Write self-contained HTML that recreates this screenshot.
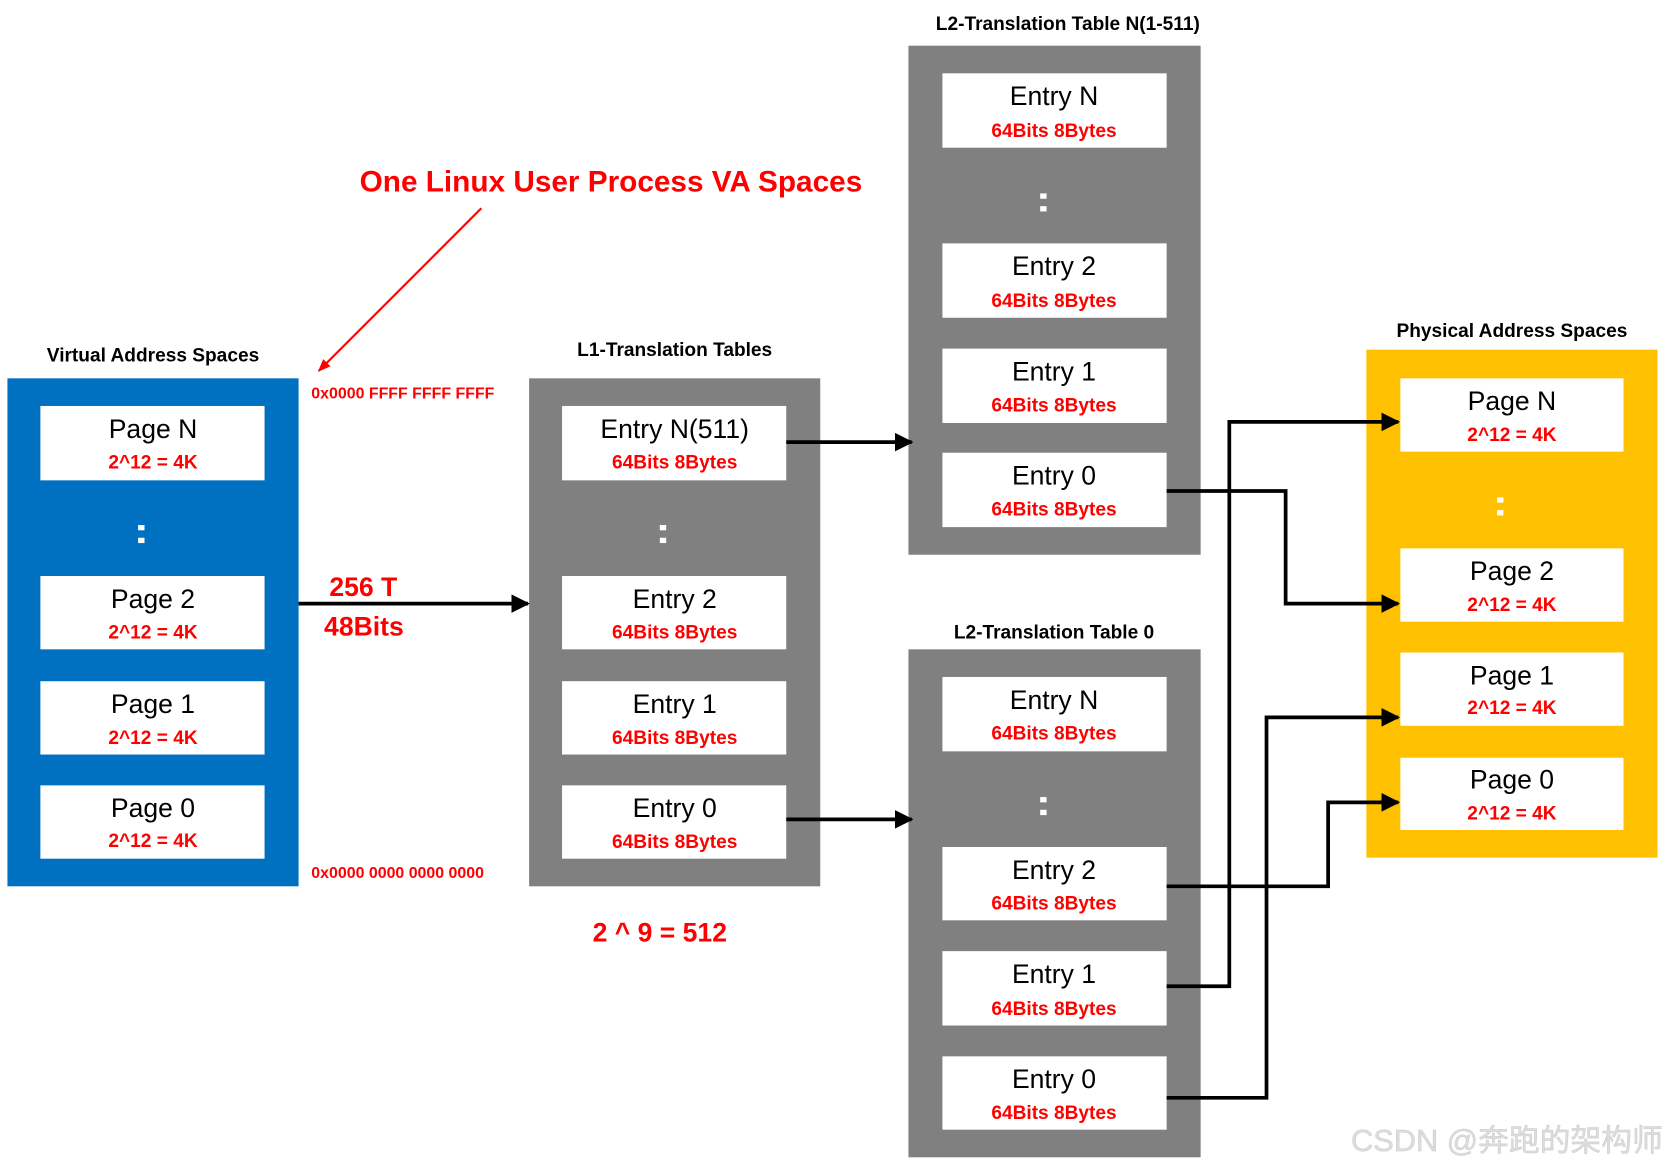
<!DOCTYPE html>
<html><head><meta charset="utf-8"><style>
html,body{margin:0;padding:0;background:#fff;}
svg{display:block;}
text{font-family:"Liberation Sans","Noto Sans CJK SC",sans-serif;}
</style></head><body>
<svg width="1666" height="1169" viewBox="0 0 1568 1100" preserveAspectRatio="none" xmlns="http://www.w3.org/2000/svg">
<defs>
<marker id="a" viewBox="0 0 10 10" refX="9" refY="5" markerWidth="5" markerHeight="5" orient="auto" markerUnits="strokeWidth"><path d="M0,0 L10,5 L0,10 z" fill="#000"/></marker>
<marker id="r" viewBox="0 0 10 10" refX="9" refY="5" markerWidth="6" markerHeight="6" orient="auto" markerUnits="strokeWidth"><path d="M0,1 L10,5 L0,9 z" fill="#f00"/></marker>
</defs>
<rect x="7" y="356" width="274" height="478" fill="#0070C0"/>
<rect x="498" y="356" width="274" height="478" fill="#808080"/>
<rect x="855" y="43" width="275" height="479" fill="#808080"/>
<rect x="855" y="611" width="275" height="478" fill="#808080"/>
<rect x="1286" y="329" width="274" height="478" fill="#FFC000"/>
<g font-weight="bold" font-size="18" text-anchor="middle" fill="#000">
<text x="144" y="340">Virtual  Address Spaces</text>
<text x="635" y="335">L1-Translation Tables</text>
<text x="1005" y="28">L2-Translation Table N(1-511)</text>
<text x="992" y="601">L2-Translation Table 0</text>
<text x="1423" y="317">Physical  Address Spaces</text>
</g>
<g fill="#fff">
<rect x="38" y="382" width="211" height="70"/><rect x="38" y="542" width="211" height="69"/><rect x="38" y="641" width="211" height="69"/><rect x="38" y="739" width="211" height="69"/>
<rect x="529" y="382" width="211" height="70"/><rect x="529" y="542" width="211" height="69"/><rect x="529" y="641" width="211" height="69"/><rect x="529" y="739" width="211" height="69"/>
<rect x="887" y="69" width="211" height="70"/><rect x="887" y="229" width="211" height="70"/><rect x="887" y="328" width="211" height="70"/><rect x="887" y="426" width="211" height="70"/>
<rect x="887" y="637" width="211" height="70"/><rect x="887" y="797" width="211" height="69"/><rect x="887" y="895" width="211" height="70"/><rect x="887" y="994" width="211" height="69"/>
<rect x="1318" y="356" width="210" height="69"/><rect x="1318" y="516" width="210" height="69"/><rect x="1318" y="614" width="210" height="69"/><rect x="1318" y="713" width="210" height="68"/>
</g>
<g font-size="25" text-anchor="middle" fill="#000" font-weight="500">
<text x="144" y="412">Page N</text><text x="144" y="572">Page 2</text><text x="144" y="671">Page 1</text><text x="144" y="769">Page 0</text>
<text x="635" y="412">Entry N(511)</text><text x="635" y="572">Entry 2</text><text x="635" y="671">Entry 1</text><text x="635" y="769">Entry 0</text>
<text x="992" y="99">Entry N</text><text x="992" y="259">Entry 2</text><text x="992" y="358">Entry 1</text><text x="992" y="456">Entry 0</text>
<text x="992" y="667">Entry N</text><text x="992" y="827">Entry 2</text><text x="992" y="925">Entry 1</text><text x="992" y="1024">Entry 0</text>
<text x="1423" y="386">Page N</text><text x="1423" y="546">Page 2</text><text x="1423" y="644">Page 1</text><text x="1423" y="742">Page 0</text>
</g>
<g font-size="18" font-weight="bold" text-anchor="middle" fill="#f00">
<text x="144" y="441">2^12  = 4K</text><text x="144" y="601">2^12  = 4K</text><text x="144" y="700">2^12  = 4K</text><text x="144" y="797">2^12  = 4K</text>
<text x="635" y="441">64Bits 8Bytes</text><text x="635" y="601">64Bits 8Bytes</text><text x="635" y="700">64Bits 8Bytes</text><text x="635" y="798">64Bits 8Bytes</text>
<text x="992" y="129">64Bits 8Bytes</text><text x="992" y="289">64Bits 8Bytes</text><text x="992" y="387">64Bits 8Bytes</text><text x="992" y="485">64Bits 8Bytes</text>
<text x="992" y="696">64Bits 8Bytes</text><text x="992" y="856">64Bits 8Bytes</text><text x="992" y="955">64Bits 8Bytes</text><text x="992" y="1053">64Bits 8Bytes</text>
<text x="1423" y="415">2^12  = 4K</text><text x="1423" y="575">2^12  = 4K</text><text x="1423" y="672">2^12  = 4K</text><text x="1423" y="771">2^12  = 4K</text>
</g>
<g fill="#fff">
<rect x="130" y="494" width="6" height="5"/><rect x="130" y="506" width="6" height="5"/>
<rect x="621" y="494" width="6" height="5"/><rect x="621" y="506" width="6" height="5"/>
<rect x="979" y="182" width="6" height="5"/><rect x="979" y="194" width="6" height="5"/>
<rect x="979" y="750" width="6" height="5"/><rect x="979" y="762" width="6" height="5"/>
<rect x="1409" y="468" width="6" height="5"/><rect x="1409" y="480" width="6" height="5"/>
</g>
<text x="575" y="180" font-size="28" font-weight="bold" fill="#f00" text-anchor="middle">One Linux User Process VA Spaces</text>
<line x1="453" y1="196" x2="300" y2="349" stroke="#f00" stroke-width="2" marker-end="url(#r)"/>
<g font-size="15" font-weight="bold" fill="#f00">
<text x="293" y="375">0x0000 FFFF FFFF FFFF</text>
<text x="293" y="826">0x0000 0000 0000 0000</text>
</g>
<g font-size="25" font-weight="bold" fill="#f00">
<text x="310" y="561">256 T</text>
<text x="305" y="598">48Bits</text>
<text x="621" y="886" text-anchor="middle">2 ^ 9 = 512</text>
</g>
<g stroke="#000" stroke-width="3.5" fill="none" marker-end="url(#a)">
<line x1="281" y1="568" x2="497" y2="568"/>
<line x1="740" y1="416" x2="858" y2="416"/>
<line x1="740" y1="771" x2="858" y2="771"/>
<polyline points="1098,462 1210,462 1210,568 1316,568"/>
<polyline points="1098,834 1250,834 1250,755 1316,755"/>
<polyline points="1098,928 1157,928 1157,397 1316,397"/>
<polyline points="1098,1033 1192,1033 1192,675 1316,675"/>
</g>
<text x="1565" y="1083" font-size="29" fill="#ddd" stroke="#ccc" stroke-width="0.5" text-anchor="end">CSDN @奔跑的架构师</text>
</svg>
</body></html>
